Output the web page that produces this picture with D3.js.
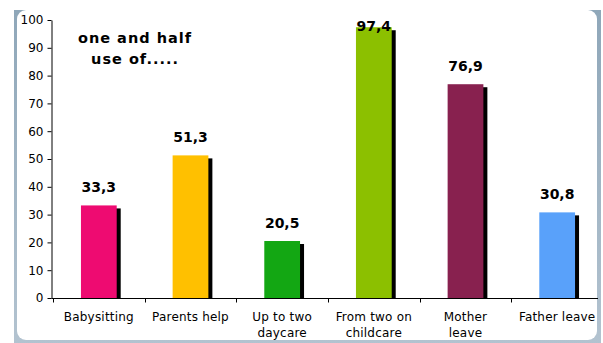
<!DOCTYPE html>
<html>
<head>
<meta charset="utf-8">
<script src="https://cdn.jsdelivr.net/npm/d3@7"></script>
<style>
  html, body { margin: 0; padding: 0; background: #ffffff; }
  svg { display: block; }
</style>
</head>
<body>
<svg id="chart" width="603" height="343"></svg>
<script>
// Childcare arrangements: share of respondents per option (%)
const categories = ["Babysitting", "Parents help", "Up to two daycare", "From two on childcare", "Mother leave", "Father leave"];
const categoryLines = [["Babysitting"], ["Parents help"], ["Up to two", "daycare"], ["From two on", "childcare"], ["Mother", "leave"], ["Father leave"]];
const values = [33.3, 51.3, 20.5, 97.4, 76.9, 30.8];
const barColors = ["#ee0b71", "#ffc000", "#13a713", "#8cc000", "#88214f", "#59a1fa"];
const yTicks = [0, 10, 20, 30, 40, 50, 60, 70, 80, 90, 100];
const titleLines = ["one and half", "use of....."];

const svg = d3.select("#chart");
const FONT = "DejaVu Sans, Verdana, sans-serif";

// Panel frame: bluish-gray backing with a white rounded card on top
const defs = svg.append("defs");
const grad = defs.append("linearGradient").attr("id", "frameGrad")
  .attr("x1", 0).attr("y1", 0).attr("x2", 0).attr("y2", 1);
grad.append("stop").attr("offset", "0%").attr("stop-color", "#8fa7b9");
grad.append("stop").attr("offset", "100%").attr("stop-color", "#b3c3d0");

svg.append("rect").attr("x", 14).attr("y", 10).attr("width", 587).attr("height", 336)
  .attr("fill", "url(#frameGrad)");
svg.append("rect").attr("x", 17).attr("y", 10).attr("width", 580).attr("height", 330)
  .attr("rx", 9).attr("ry", 9).attr("fill", "#ffffff");

// Scales
const y = d3.scaleLinear().domain([0, 100]).range([298, 20]);
const slot = d3.scaleBand().domain(categories).range([53, 603]).padding(0);
const x = d3.scaleBand().domain(categories).range([53, 603])
  .paddingInner(0.61).paddingOuter(0.305);

const fmt = d3.formatLocale({ decimal: ",", thousands: ".", grouping: [3], currency: ["", ""] }).format(".1f");

// Y axis
const yAxis = d3.axisLeft(y).tickValues(yTicks).tickSize(4).tickSizeOuter(0).tickPadding(4);
const gy = svg.append("g").attr("transform", "translate(51.5,0)").call(yAxis);
gy.selectAll("text").attr("font-family", FONT)
  .attr("font-size", 12).attr("fill", "#000");
gy.selectAll("line, path").attr("stroke", "#000");

// Shadows then bars
const bars = svg.append("g");
bars.selectAll("rect.shadow").data(categories).join("rect")
  .attr("class", "shadow")
  .attr("x", d => x(d) + 4)
  .attr("y", (d, i) => y(values[i]) + 3)
  .attr("width", x.bandwidth())
  .attr("height", (d, i) => y(0) - y(values[i]) - 3)
  .attr("fill", "#000");
bars.selectAll("rect.bar").data(categories).join("rect")
  .attr("class", "bar")
  .attr("x", d => x(d))
  .attr("y", (d, i) => y(values[i]))
  .attr("width", x.bandwidth())
  .attr("height", (d, i) => y(0) - y(values[i]))
  .attr("fill", (d, i) => barColors[i]);

// X axis line with category boundary ticks
const gx = svg.append("g");
gx.append("line").attr("x1", 51.5).attr("x2", 598).attr("y1", 298.5).attr("y2", 298.5)
  .attr("stroke", "#000");
const bounds = categories.map(c => slot(c)).concat([slot.range()[1]]).filter(v => v < 598);
gx.selectAll("line.tick").data(bounds).join("line")
  .attr("class", "tick")
  .attr("x1", d => Math.round(d) + 0.5).attr("x2", d => Math.round(d) + 0.5)
  .attr("y1", 298.5).attr("y2", 302.5).attr("stroke", "#000");

// Category labels
const labels = svg.append("g").attr("font-family", FONT)
  .attr("font-size", 12).attr("letter-spacing", 0.2).attr("fill", "#000").attr("text-anchor", "middle");
labels.selectAll("text").data(categories).join("text")
  .attr("x", d => slot(d) + slot.bandwidth() / 2)
  .attr("y", 321)
  .each(function (d, i) {
    const t = d3.select(this);
    categoryLines[i].forEach((ln, k) => {
      t.append("tspan").attr("x", slot(d) + slot.bandwidth() / 2)
        .attr("dy", k === 0 ? 0 : 16).text(ln);
    });
  });

// Value labels above bars (kept inside the plot area)
svg.append("g").attr("font-family", FONT)
  .attr("font-size", 14).attr("font-weight", "bold").attr("fill", "#000")
  .attr("text-anchor", "middle")
  .selectAll("text").data(categories).join("text")
  .attr("x", d => x(d) + x.bandwidth() / 2)
  .attr("y", (d, i) => Math.max(y(values[i]) - 13, 31))
  .text((d, i) => fmt(values[i]));

// Title note
svg.append("g").attr("font-family", FONT)
  .attr("font-size", 14.5).attr("font-weight", "bold").attr("letter-spacing", 1)
  .attr("fill", "#000").attr("text-anchor", "middle")
  .selectAll("text").data(titleLines).join("text")
  .attr("x", 135).attr("y", (d, i) => 43 + i * 21)
  .text(d => d);
</script>
</body>
</html>
